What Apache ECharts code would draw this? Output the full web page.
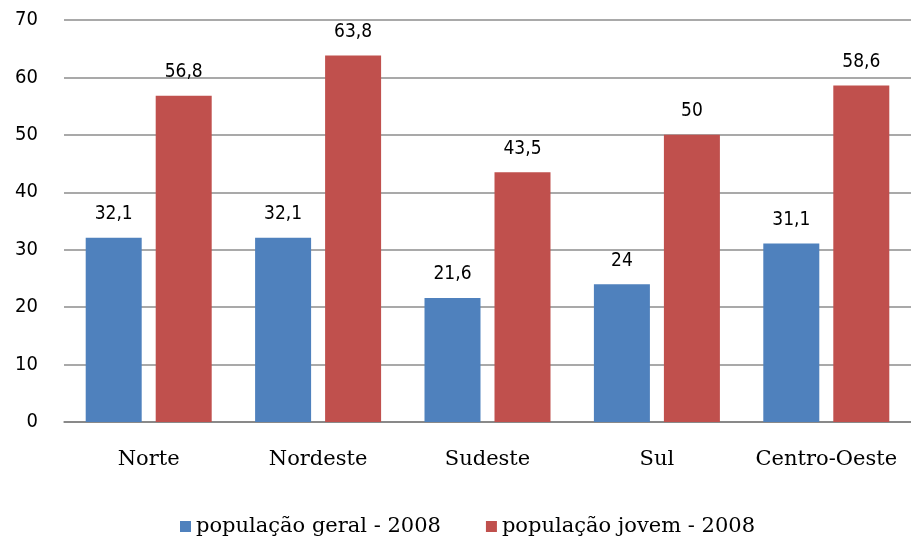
<!DOCTYPE html>
<html>
<head>
<meta charset="utf-8">
<style>
  html, body { margin: 0; padding: 0; background: #fff; }
  #chart { width: 911px; height: 547px; }
</style>
<script src="https://cdn.jsdelivr.net/npm/echarts@6/dist/echarts.min.js"></script>
</head>
<body>
<div id="chart"></div>
<script>
const regions = ['Norte', 'Nordeste', 'Sudeste', 'Sul', 'Centro-Oeste']
const geral = [32.1, 32.1, 21.6, 24, 31.1]
const jovem = [56.8, 63.8, 43.5, 50, 58.6]

const serif = '"DejaVu Serif", "Liberation Serif", serif'
const nums = '"DejaVu Sans Condensed", "DejaVu Sans", sans-serif'
const fmt = (p) => String(p.value).replace('.', ',')

const labelStyle = {
  show: true,
  position: 'top',
  distance: 14,
  formatter: fmt,
  fontFamily: nums,
  fontSize: 19,
  color: '#000'
}

const chart = echarts.init(document.getElementById('chart'))
chart.setOption({
  animation: false,
  textStyle: { fontFamily: serif },
  grid: { left: 64, right: -5, top: 20, bottom: 125 },
  legend: {
    bottom: 5,
    left: 175,
    itemWidth: 11,
    itemHeight: 11,
    itemGap: 45,
    icon: 'rect',
    formatter: '{s|{name}}',
    textStyle: {
      fontFamily: serif,
      fontSize: 21,
      color: '#000',
      rich: { s: { fontFamily: serif, fontSize: 21, color: '#000' } }
    },
    data: ['população geral - 2008', 'população jovem - 2008']
  },
  xAxis: {
    type: 'category',
    data: regions,
    axisTick: { show: false },
    axisLine: { lineStyle: { color: '#7f7f7f', width: 1.5 } },
    axisLabel: { interval: 0, fontFamily: serif, fontSize: 21, color: '#000', margin: 27 }
  },
  yAxis: {
    type: 'value',
    min: 0,
    max: 70,
    interval: 10,
    axisLine: { show: false },
    axisTick: { show: false },
    splitLine: { lineStyle: { color: '#8c8c8c', width: 1.5 } },
    axisLabel: { fontFamily: nums, fontSize: 20, color: '#000', margin: 26 }
  },
  series: [
    {
      name: 'população geral - 2008',
      type: 'bar',
      data: geral,
      itemStyle: { color: '#4F81BD' },
      barWidth: 56,
      barGap: '25%',
      label: labelStyle
    },
    {
      name: 'população jovem - 2008',
      type: 'bar',
      data: jovem,
      itemStyle: { color: '#C0504D' },
      barWidth: 56,
      label: labelStyle
    }
  ]
})
</script>
</body>
</html>
